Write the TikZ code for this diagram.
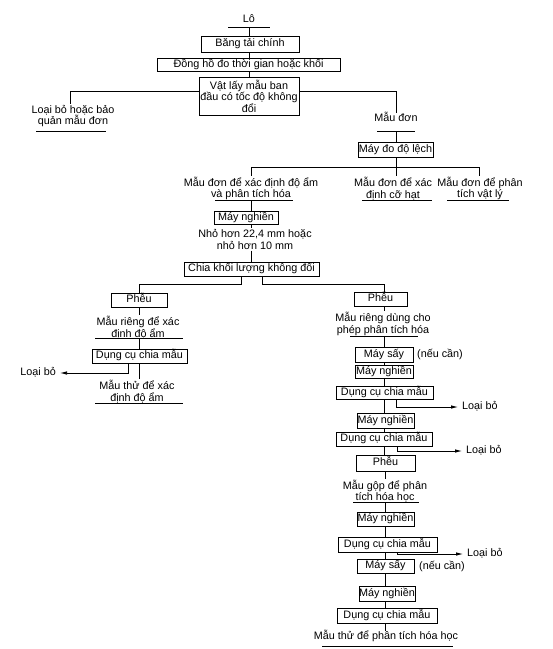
\documentclass[tikz,border=0pt]{standalone}
\usepackage{fontspec}
\setmainfont{Liberation Sans}
\usetikzlibrary{arrows.meta}
\newcommand\dfont{\fontsize{10.8}{11.5}\selectfont}
\tikzset{
  ln/.style={line width=0.75pt},
  bx/.style={draw, line width=0.8pt, inner sep=0pt, font=\dfont, align=center},
  bx1/.style={bx, text height=8pt, text depth=2.5pt},
  tx/.style={inner sep=1pt, font=\dfont, align=center},
  tx1/.style={tx, text height=8pt, text depth=2.5pt},
  lbo/.style={tx1, inner xsep=4pt},
  arr/.style={ln, -{Latex[length=7pt,width=3.5pt]}}
}
\begin{document}
\begin{tikzpicture}[x=1pt, y=-1pt]
\useasboundingbox (0,0) rectangle (553,649);
\coordinate (rc) at (384,0);
% top chain
\node[tx1] (lo) at (249,20) {Lô};
\node[bx1, minimum width=98pt, minimum height=16pt] (bang) at (250,44) {Băng tải chính};
\node[bx1, minimum width=183pt, minimum height=12.5pt] (dongho) at (248.5,65) {Đồng hồ đo thời gian hoặc khối};
\node[bx, minimum width=100pt, minimum height=38pt] (vat) at (249,96) {Vật lấy mẫu ban\\đầu có tốc độ không\\đổi};
\node[tx] (loai1) at (73,116) {Loại bỏ hoặc bảo\\quản mẫu đơn};
\node[tx1] (mdon) at (396,119) {Mẫu đơn};
\node[bx1, minimum width=75pt, minimum height=15pt] (maydo) at (395.5,149.5) {Máy đo độ lệch};
\node[tx] (t1) at (251,188.5) {Mẫu đơn để xác định độ ẩm\\và phân tích hóa};
\node[tx] (t2) at (393,188.5) {Mẫu đơn để xác\\định cỡ hạt};
\node[tx] (t3) at (480,188.5) {Mẫu đơn để phân\\tích vật lý};
\node[bx1, minimum width=64pt, minimum height=13pt] (ng1) at (246,217.5) {Máy nghiền};
\node[tx] (t4) at (255,239.5) {Nhỏ hơn 22,4 mm hoặc\\nhỏ hơn 10 mm};
\node[bx1, minimum width=135pt, minimum height=14pt] (chia) at (251.5,269) {Chia khối lượng không đổi};
% left column
\node[bx1, minimum width=56pt, minimum height=14pt] (pheu1) at (139,300) {Phễu};
\node[tx] (t5) at (138,327.5) {Mẫu riêng để xác\\định độ ẩm};
\node[bx1, minimum width=95pt, minimum height=14pt] (dc1) at (139.5,356) {Dụng cụ chia mẫu};
\node[lbo, anchor=east] (lb0) at (60,373) {Loại bỏ};
\node[tx] (t6) at (137,391.5) {Mẫu thử để xác\\định độ ẩm};
% right column
\node[bx1, minimum width=53pt, minimum height=14pt] (pheu2) at (380.5,299) {Phễu};
\node[tx] (t7) at (383,324) {Mẫu riêng dùng cho\\phép phân tích hóa};
\node[bx1, minimum width=58pt, minimum height=15pt] (say1) at (384,354.5) {Máy sấy};
\node[tx1, anchor=west] (nc1) at (416,355) {(nếu cần)};
\node[bx1, minimum width=58pt, minimum height=13pt] (ng2) at (384,372) {Máy nghiền};
\node[bx1, minimum width=97pt, minimum height=13pt] (dc2) at (384.5,392.5) {Dụng cụ chia mẫu};
\node[lbo, anchor=west] (lb1) at (458,407) {Loại bỏ};
\node[bx1, minimum width=57pt, minimum height=15pt] (ng3) at (385.5,420.5) {Máy nghiền};
\node[bx1, minimum width=96pt, minimum height=14pt] (dc3) at (384,439) {Dụng cụ chia mẫu};
\node[lbo, anchor=west] (lb2) at (462,451) {Loại bỏ};
\node[bx1, minimum width=59pt, minimum height=16pt] (pheu3) at (385.5,463) {Phễu};
\node[tx] (t8) at (385,491) {Mẫu gộp để phân\\tích hóa học};
\node[bx1, minimum width=57pt, minimum height=14pt] (ng4) at (385.5,519) {Máy nghiền};
\node[bx1, minimum width=99pt, minimum height=15pt] (dc4) at (387.5,544.5) {Dụng cụ chia mẫu};
\node[lbo, anchor=west] (lb3) at (463,554) {Loại bỏ};
\node[bx1, minimum width=57pt, minimum height=14pt] (say2) at (385.5,566) {Máy sấy};
\node[tx1, anchor=west] (nc2) at (418,567) {(nếu cần)};
\node[bx1, minimum width=56pt, minimum height=15pt] (ng5) at (387,593.5) {Máy nghiền};
\node[bx1, minimum width=100pt, minimum height=15pt] (dc5) at (387,615.5) {Dụng cụ chia mẫu};
\node[tx1] (t9) at (386,637) {Mẫu thử để phân tích hóa học};
% underlines
\draw[ln] (228,27) -- (270,27);
\draw[ln] (36,131) -- (106,131);
\draw[ln] (377,131) -- (415,131);
\draw[ln] (215,200) -- (293,200);
\draw[ln] (362,200) -- (432,200);
\draw[ln] (447,200) -- (509,200);
\draw[ln] (95,338) -- (183,338);
\draw[ln] (95,403) -- (183,403);
\draw[ln] (350,336) -- (418,336);
\draw[ln] (353,502) -- (419,502);
\draw[ln] (322,646) -- (453,646);
% junction coordinates
\coordinate (lou) at (249,27);
\coordinate (jl) at (70,91);
\coordinate (jr) at (396,91);
\coordinate (mdu) at (396,131);
\coordinate (j2l) at (251,167);
\coordinate (j2r) at (479,167);
\coordinate (u1) at (251,200);
\coordinate (cl) at (241,284);
\coordinate (cr) at (262,284);
\coordinate (u5) at (139,338);
\coordinate (bl) at (128,373);
\coordinate (u7) at (384,336);
\coordinate (b1) at (396,407);
\coordinate (b2) at (397,451);
\coordinate (u8) at (385,502);
\coordinate (b3) at (397,554);
% connectors top
\draw[ln] (lou) -- (lou |- bang.north);
\draw[ln] (lou |- bang.south) -- (lou |- dongho.north);
\draw[ln] (lou |- dongho.south) -- (lou |- vat.north);
\draw[ln] (vat.west |- jl) -- (jl) -- (jl |- loai1.north);
\draw[ln] (vat.east |- jr) -- (jr) -- (jr |- mdon.north);
\draw[ln] (mdu) -- (mdu |- maydo.north);
\draw[ln] (mdu |- maydo.south) -- (mdu |- j2l);
\draw[ln] (j2l |- t1.north) -- (j2l) -- (j2r) -- (j2r |- t3.north);
\draw[ln] (mdu |- j2l) -- (mdu |- t2.north);
\draw[ln] (u1) -- (u1 |- ng1.north);
\draw[ln] (u1 |- ng1.south) -- (u1 |- t4.north);
\draw[ln] (u1 |- t4.south) -- (u1 |- chia.north);
\draw[ln] (cl |- chia.south) -- (cl) -- (pheu1.north |- cl) -- (pheu1.north);
\draw[ln] (cr |- chia.south) -- (cr) -- (rc |- cr) -- (rc |- pheu2.north);
% left column
\draw[ln] (pheu1.south) -- (pheu1.south |- t5.north);
\draw[ln] (u5) -- (u5 |- dc1.north);
\draw[arr] (bl |- dc1.south) -- (bl) -- (lb0.east);
\draw[ln] (u5 |- dc1.south) -- (u5 |- t6.north);
% right column
\draw[ln] (rc |- pheu2.south) -- (rc |- t7.north);
\draw[ln] (u7) -- (u7 |- say1.north);
\draw[ln] (rc |- say1.south) -- (rc |- ng2.north);
\draw[ln] (rc |- ng2.south) -- (rc |- dc2.north);
\draw[arr] (b1 |- dc2.south) -- (b1) -- (lb1.west);
\draw[ln] (rc |- dc2.south) -- (rc |- ng3.north);
\draw[ln] (rc |- ng3.south) -- (rc |- dc3.north);
\draw[arr] (b2 |- dc3.south) -- (b2) -- (lb2.west);
\draw[ln] (rc |- dc3.south) -- (rc |- pheu3.north);
\draw[ln] (u8 |- pheu3.south) -- (u8 |- t8.north);
\draw[ln] (u8) -- (u8 |- ng4.north);
\draw[ln] (u8 |- ng4.south) -- (u8 |- dc4.north);
\draw[arr] (b3 |- dc4.south) -- (b3) -- (lb3.west);
\draw[ln] (u8 |- dc4.south) -- (u8 |- say2.north);
\draw[ln] (u8 |- say2.south) -- (u8 |- ng5.north);
\draw[ln] (u8 |- ng5.south) -- (u8 |- dc5.north);
\draw[ln] (u8 |- dc5.south) -- (u8 |- t9.north);
\end{tikzpicture}
\end{document}
